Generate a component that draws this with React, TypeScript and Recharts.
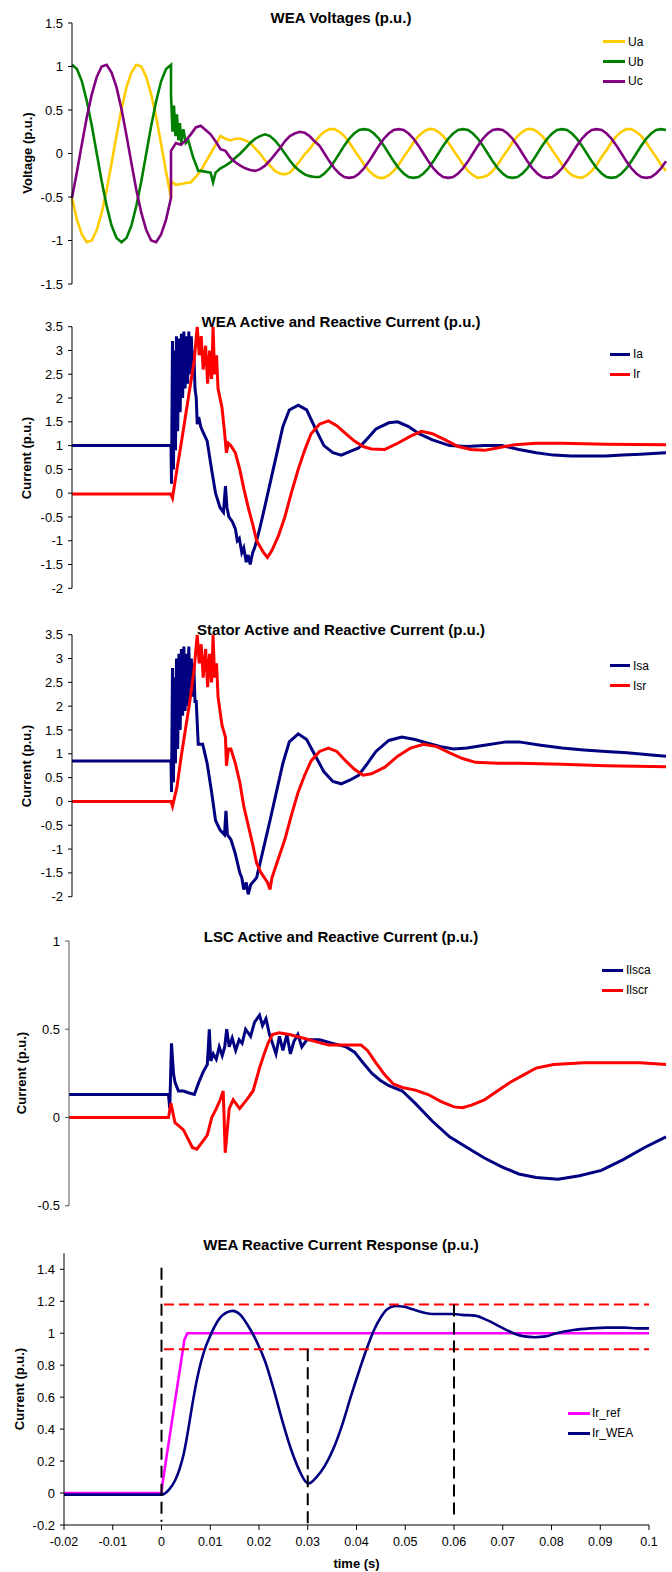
import React from "react";
import { LineChart, Line, XAxis, YAxis } from "recharts";

const FONT = '"Liberation Sans", Arial, Helvetica, sans-serif';

// ---- time grids (ms) ----
const preT = [-20, -19, -18, -17, -16, -15, -14, -13, -12, -11, -10, -9, -8, -7, -6, -5, -4, -3, -2, -1, 0];
const postT = [
  0, 1, 2, 3, 4, 5, 6, 7, 8, 9, 10, 11, 12, 13, 14, 15, 16, 17, 18, 19, 20, 21, 22, 23, 24, 25, 26, 27, 28, 29,
  30, 31, 32, 33, 34, 35, 36, 37, 38, 39, 40, 41, 42, 43, 44, 45, 46, 47, 48, 49, 50, 51, 52, 53, 54, 55, 56, 57, 58, 59,
  60, 61, 62, 63, 64, 65, 66, 67, 68, 69, 70, 71, 72, 73, 74, 75, 76, 77, 78, 79, 80, 81, 82, 83, 84, 85, 86, 87, 88, 89,
  90, 91, 92, 93, 94, 95, 96, 97, 98, 99, 100,
];

// ---- WEA voltages ----
const uaPre = [-0.51, -0.76, -0.93, -1.02, -1.0, -0.88, -0.68, -0.42, -0.11, 0.21, 0.51, 0.76, 0.93, 1.02, 1.0, 0.88, 0.68, 0.42, 0.11, -0.21, -0.51];
const ubPre = [1.02, 0.97, 0.83, 0.6, 0.32, 0, -0.32, -0.6, -0.83, -0.97, -1.02, -0.97, -0.83, -0.6, -0.32, 0, 0.32, 0.6, 0.83, 0.97, 1.02];
const ucPre = [-0.51, -0.21, 0.11, 0.42, 0.68, 0.88, 1.0, 1.02, 0.93, 0.76, 0.51, 0.21, -0.11, -0.42, -0.68, -0.88, -1.0, -1.02, -0.93, -0.76, -0.51];

const uaPost = [
  -0.32, -0.36, -0.35, -0.34, -0.33, -0.27, -0.2, -0.1, 0.0, 0.1,
  0.2, 0.17, 0.15, 0.17, 0.17, 0.15, 0.12, 0.06, 0.0, -0.08,
  -0.14, -0.2, -0.23, -0.24, -0.22, -0.16, -0.09, -0.01, 0.05, 0.13,
  0.2, 0.25, 0.28, 0.28, 0.25, 0.2, 0.13, 0.04, -0.04, -0.13,
  -0.2, -0.25, -0.28, -0.28, -0.25, -0.2, -0.13, -0.04, 0.04, 0.13,
  0.2, 0.25, 0.28, 0.28, 0.25, 0.2, 0.13, 0.04, -0.04, -0.13,
  -0.2, -0.25, -0.28, -0.27, -0.25, -0.2, -0.13, -0.04, 0.04, 0.13,
  0.2, 0.25, 0.28, 0.28, 0.25, 0.2, 0.13, 0.04, -0.04, -0.13,
  -0.2, -0.25, -0.27, -0.28, -0.25, -0.2, -0.13, -0.04, 0.04, 0.13,
  0.2, 0.25, 0.28, 0.28, 0.25, 0.2, 0.13, 0.04, -0.04, -0.13,
  -0.2,
];
const ucPost = [
  0.03, 0.12, 0.1, 0.15, 0.22, 0.3, 0.32, 0.27, 0.22, 0.14,
  0.05, 0.03, -0.05, -0.1, -0.14, -0.17, -0.19, -0.2, -0.18, -0.14,
  -0.08, -0.01, 0.06, 0.14, 0.2, 0.23, 0.25, 0.24, 0.2, 0.14,
  0.09, 0, -0.09, -0.17, -0.23, -0.27, -0.28, -0.27, -0.23, -0.17,
  -0.09, 0, 0.09, 0.17, 0.23, 0.27, 0.28, 0.27, 0.23, 0.17,
  0.09, 0, -0.09, -0.17, -0.23, -0.27, -0.28, -0.27, -0.23, -0.17,
  -0.09, 0, 0.09, 0.17, 0.23, 0.27, 0.28, 0.27, 0.23, 0.17,
  0.09, 0, -0.09, -0.17, -0.23, -0.27, -0.28, -0.27, -0.23, -0.17,
  -0.09, 0, 0.09, 0.17, 0.23, 0.27, 0.28, 0.27, 0.23, 0.17,
  0.09, 0, -0.09, -0.17, -0.23, -0.27, -0.28, -0.27, -0.23, -0.17,
  -0.09,
];
const ubEarlyT = [0, 0.3, 0.6, 0.9, 1.2, 1.5, 1.8, 2.1, 2.5, 3, 3.5, 4, 4.5, 5, 5.5, 6, 7, 8, 8.5, 9, 10, 11, 12, 13, 14, 15, 16, 17, 18, 19, 20, 21, 22, 23, 24, 25, 26, 27, 28, 29];
const ubEarlyV = [0.68, 0.25, 0.55, 0.2, 0.45, 0.15, 0.35, 0.12, 0.28, 0.12, 0.15, 0.05, -0.05, -0.12, -0.2, -0.2, -0.21, -0.22, -0.33, -0.22, -0.17, -0.14, -0.1, -0.05, 0.0, 0.06, 0.12, 0.17, 0.2, 0.22, 0.2, 0.15, 0.08, 0.0, -0.08, -0.15, -0.2, -0.24, -0.26, -0.27];
const ubLateV = [
  -0.27, -0.23, -0.17, -0.09, 0, 0.09, 0.17, 0.23, 0.27, 0.28, 0.27, 0.23, 0.17, 0.09, 0, -0.09, -0.17, -0.23, -0.27, -0.28,
  -0.27, -0.23, -0.17, -0.09, 0, 0.09, 0.17, 0.23, 0.27, 0.28, 0.27, 0.23, 0.17, 0.09, 0, -0.09, -0.17, -0.23, -0.27, -0.28,
  -0.27, -0.23, -0.17, -0.09, 0, 0.09, 0.17, 0.23, 0.27, 0.28, 0.27, 0.23, 0.17, 0.09, 0, -0.09, -0.17, -0.23, -0.27, -0.28,
  -0.27, -0.23, -0.17, -0.09, 0, 0.09, 0.17, 0.23, 0.27, 0.28, 0.27,
];

// ---- WEA active / reactive current ----
const iaT = [-20, 0, 0.1, 0.3, 0.5, 0.7, 0.9, 1.1, 1.35, 1.6, 1.85, 2.1, 2.35, 2.6, 2.85, 3.1, 3.35, 3.6, 3.85, 4.1, 4.35, 4.6, 4.85, 5.1, 5.3, 5.6, 6.0, 6.4, 7.3, 8.2, 9.0, 9.9, 10.6, 11.0, 11.3, 11.7, 12.4, 13.0, 13.4, 13.8, 14.3, 14.7, 15.2, 15.6, 16.0, 16.5, 16.9, 17.8, 18.7, 20.0, 21.3, 22.6, 23.9, 25.7, 27.4, 29.2, 30.9, 32.7, 34.4, 36.2, 37.9, 39.7, 41.4, 44.0, 45.8, 48.0, 50.1, 52.8, 56.3, 59.8, 63.3, 66.8, 70.3, 73.8, 77.3, 80.8, 84.3, 87.8, 91.3, 94.8, 100];
const iaV = [1.0, 1.0, 0.2, 3.2, 0.5, 3.0, 0.9, 3.3, 1.3, 3.25, 1.7, 3.35, 2.0, 3.4, 2.2, 3.3, 2.3, 3.4, 2.5, 3.3, 2.6, 3.0, 2.2, 2.0, 1.45, 1.6, 1.4, 1.3, 1.1, 0.5, 0.0, -0.3, -0.4, 0.15, -0.3, -0.5, -0.6, -0.75, -1.0, -0.95, -1.25, -1.15, -1.45, -1.3, -1.5, -1.25, -1.15, -0.8, -0.4, 0.2, 0.8, 1.4, 1.75, 1.85, 1.75, 1.35, 1.0, 0.85, 0.8, 0.88, 0.95, 1.15, 1.35, 1.48, 1.5, 1.4, 1.25, 1.12, 1.0, 0.98, 1.0, 1.0, 0.92, 0.85, 0.8, 0.78, 0.78, 0.78, 0.8, 0.82, 0.85];
const irT = [-20, 0, 0.3, 1.2, 2.0, 2.9, 3.8, 4.7, 5.3, 5.7, 6.1, 6.5, 7.0, 7.4, 7.8, 8.2, 8.5, 8.8, 9.2, 9.5, 10.3, 10.8, 11.2, 11.6, 12.1, 13.0, 13.9, 14.7, 15.6, 16.5, 17.3, 18.7, 19.5, 20.4, 21.7, 23.0, 24.3, 25.7, 27.0, 28.3, 30.0, 31.8, 33.5, 35.3, 37.0, 38.8, 40.5, 43.2, 45.8, 48.4, 50.6, 52.8, 55.4, 58.0, 60.6, 63.3, 65.9, 69.4, 73.8, 79.0, 87.8, 100];
const irV = [-0.02, -0.02, -0.1, 0.5, 1.0, 1.6, 2.2, 2.8, 3.5, 2.9, 3.3, 2.6, 3.1, 2.3, 3.0, 2.4, 3.5, 2.5, 2.9, 2.2, 1.8, 1.3, 0.85, 1.05, 1.0, 0.85, 0.5, 0.1, -0.3, -0.65, -1.0, -1.25, -1.35, -1.2, -0.9, -0.5, 0.0, 0.5, 0.9, 1.25, 1.45, 1.52, 1.42, 1.25, 1.1, 0.98, 0.93, 0.92, 1.05, 1.2, 1.3, 1.25, 1.12, 0.98, 0.92, 0.9, 0.95, 1.02, 1.05, 1.05, 1.03, 1.02];

// ---- stator active / reactive current ----
const isaT = [-20, 0, 0.1, 0.3, 0.5, 0.7, 0.9, 1.1, 1.35, 1.6, 1.85, 2.1, 2.35, 2.6, 2.85, 3.1, 3.35, 3.6, 3.85, 4.1, 4.35, 4.6, 4.85, 5.1, 5.5, 6.4, 7.3, 8.2, 9.0, 9.9, 10.8, 11.1, 11.4, 12.1, 13.0, 13.9, 14.3, 14.7, 15.2, 15.6, 16.1, 16.5, 17.3, 18.2, 19.1, 20.0, 21.3, 22.6, 23.9, 25.7, 27.4, 29.2, 30.9, 32.7, 34.4, 36.2, 37.9, 39.7, 41.4, 44.0, 46.6, 49.3, 51.9, 54.5, 57.1, 59.8, 63.3, 67.7, 70.3, 74.7, 79.0, 83.4, 87.8, 92.1, 96.5, 100];
const isaV = [0.85, 0.85, 0.2, 2.8, 0.4, 2.6, 0.8, 3.0, 1.1, 3.1, 1.5, 3.2, 1.8, 3.25, 1.9, 3.1, 2.0, 3.25, 2.2, 3.0, 2.2, 2.9, 2.1, 2.1, 1.2, 1.2, 0.8, 0.2, -0.4, -0.6, -0.7, -0.2, -0.7, -0.8, -1.1, -1.5, -1.6, -1.85, -1.7, -1.95, -1.75, -1.7, -1.6, -1.2, -0.8, -0.4, 0.2, 0.8, 1.25, 1.42, 1.3, 0.95, 0.62, 0.42, 0.37, 0.45, 0.55, 0.8, 1.05, 1.28, 1.35, 1.3, 1.22, 1.15, 1.1, 1.12, 1.18, 1.25, 1.25, 1.18, 1.12, 1.08, 1.05, 1.02, 0.98, 0.95];
const isrT = [-20, 0, 0.3, 1.2, 2.0, 2.9, 3.8, 4.7, 5.3, 5.7, 6.1, 6.5, 7.0, 7.4, 7.8, 8.2, 8.5, 8.8, 9.2, 9.5, 10.3, 11.0, 11.2, 11.6, 12.1, 13.0, 13.9, 14.7, 15.6, 16.5, 17.3, 18.2, 19.5, 20.0, 20.4, 21.7, 23.0, 24.3, 25.7, 27.0, 28.3, 30.0, 31.8, 33.5, 35.3, 37.0, 38.8, 40.5, 43.2, 45.8, 48.4, 51.0, 53.7, 56.3, 58.9, 61.5, 65.9, 70.3, 79.0, 87.8, 100];
const isrV = [0, 0, -0.1, 0.3, 0.9, 1.5, 2.1, 2.8, 3.5, 2.9, 3.3, 2.6, 3.2, 2.4, 3.1, 2.5, 3.5, 2.6, 2.9, 2.2, 1.6, 1.35, 0.75, 1.1, 1.1, 0.8, 0.4, -0.1, -0.5, -0.9, -1.3, -1.5, -1.7, -1.85, -1.6, -1.2, -0.8, -0.3, 0.2, 0.55, 0.85, 1.05, 1.12, 1.05, 0.85, 0.68, 0.55, 0.58, 0.72, 0.95, 1.12, 1.2, 1.15, 1.02, 0.9, 0.82, 0.8, 0.8, 0.78, 0.75, 0.73];

// ---- LSC active / reactive current ----
const lscaT = [-20, 0, 0.25, 0.6, 1.0, 1.3, 2.0, 3.0, 4.0, 5.2, 6.1, 7.0, 7.8, 8.2, 8.5, 9.0, 9.6, 10.2, 10.8, 11.3, 11.7, 12.2, 12.8, 13.5, 14.2, 14.8, 15.5, 16.5, 17.3, 18.3, 18.9, 19.6, 20.3, 20.9, 21.6, 22.3, 23.0, 23.8, 24.5, 25.2, 26.0, 26.8, 27.8, 30.4, 33.0, 35.7, 37.4, 39.1, 40.9, 42.6, 44.3, 47.0, 49.6, 53.0, 56.5, 60.0, 63.5, 67.0, 70.4, 73.9, 78.3, 82.6, 87.0, 91.3, 95.7, 100];
const lscaV = [0.13, 0.13, 0.05, 0.42, 0.25, 0.2, 0.15, 0.15, 0.14, 0.13, 0.2, 0.26, 0.3, 0.5, 0.32, 0.36, 0.33, 0.4, 0.35, 0.4, 0.5, 0.4, 0.45, 0.38, 0.44, 0.42, 0.5, 0.46, 0.54, 0.58, 0.52, 0.56, 0.47, 0.42, 0.36, 0.46, 0.38, 0.47, 0.36, 0.43, 0.47, 0.4, 0.44, 0.44, 0.42, 0.4, 0.37, 0.31, 0.25, 0.21, 0.18, 0.15, 0.08, -0.02, -0.11, -0.17, -0.23, -0.28, -0.32, -0.34, -0.35, -0.33, -0.3, -0.24, -0.17, -0.11];
const lscrT = [-20, 0, 0.5, 1.3, 2.2, 3.0, 3.9, 4.8, 5.7, 6.5, 7.8, 8.7, 9.6, 10.4, 11.0, 11.4, 12.2, 13.0, 14.3, 15.7, 17.0, 18.3, 19.1, 20.0, 20.9, 22.2, 24.3, 27.0, 29.6, 32.2, 35.7, 38.7, 40.0, 41.7, 43.5, 45.2, 47.0, 49.6, 52.2, 54.8, 57.4, 59.1, 60.9, 63.5, 66.1, 68.7, 71.3, 73.9, 77.4, 83.5, 89.6, 94.8, 100];
const lscrV = [0, 0, 0.08, -0.03, -0.05, -0.07, -0.12, -0.17, -0.18, -0.15, -0.1, 0.0, 0.05, 0.1, 0.15, -0.2, 0.05, 0.1, 0.05, 0.1, 0.15, 0.28, 0.35, 0.42, 0.47, 0.48, 0.47, 0.45, 0.43, 0.41, 0.41, 0.41, 0.38, 0.31, 0.24, 0.19, 0.17, 0.155, 0.13, 0.09, 0.06, 0.055, 0.07, 0.1, 0.15, 0.2, 0.24, 0.28, 0.3, 0.31, 0.31, 0.31, 0.3];

// ---- reactive current response ----
const refT = [-20, 0, 0.2, 4.7, 5.3, 100];
const refV = [0, 0, 0.06, 0.96, 1.0, 1.0];
const weaT = [-20, 0, 1.5, 2.8, 3.7, 4.6, 5.5, 6.3, 7.2, 8.1, 9.0, 9.8, 10.7, 11.6, 13.4, 14.7, 16.0, 17.7, 19.5, 21.3, 23.0, 24.8, 26.5, 28.3, 29.6, 30.2, 31.8, 33.5, 35.3, 37.1, 38.8, 40.6, 42.3, 43.6, 45.0, 46.3, 48.0, 49.8, 51.5, 53.7, 55.9, 58.1, 59.9, 61.6, 64.3, 66.9, 69.5, 72.2, 74.4, 76.6, 78.8, 81.0, 84.5, 88.0, 91.5, 95.0, 97.6, 100];
const weaV = [-0.01, -0.01, 0.02, 0.08, 0.15, 0.25, 0.4, 0.55, 0.7, 0.82, 0.91, 0.97, 1.03, 1.08, 1.13, 1.14, 1.12, 1.05, 0.95, 0.82, 0.65, 0.45, 0.28, 0.14, 0.07, 0.06, 0.1, 0.17, 0.28, 0.43, 0.6, 0.77, 0.92, 1.02, 1.1, 1.15, 1.17, 1.165, 1.15, 1.13, 1.12, 1.12, 1.12, 1.115, 1.11, 1.08, 1.04, 1.0, 0.98, 0.975, 0.98, 1.0, 1.02, 1.03, 1.035, 1.035, 1.03, 1.03];
const bandT = [0.5, 100];
const upperV = [1.18, 1.18];
const lowerV = [0.9, 0.9];
const mark0T = [0, 0];
const mark0V = [1.41, -0.18];
const mark30T = [30, 30];
const mark30V = [0.9, -0.2];
const mark60T = [60, 60];
const mark60V = [1.18, -0.14];

// ---- axes ----
const xTicks = [-20, -10, 0, 10, 20, 30, 40, 50, 60, 70, 80, 90, 100];
const xTickLabels = ["-0.02", "-0.01", "0", "0.01", "0.02", "0.03", "0.04", "0.05", "0.06", "0.07", "0.08", "0.09", "0.1"];
const voltTicks = [-1.5, -1, -0.5, 0, 0.5, 1, 1.5];
const curTicks = [-2, -1.5, -1, -0.5, 0, 0.5, 1, 1.5, 2, 2.5, 3, 3.5];
const lscTicks = [-0.5, 0, 0.5, 1];
const respTicks = [-0.2, 0, 0.2, 0.4, 0.6, 0.8, 1, 1.2, 1.4];

type Pt = { t: number; v: number };
const pts = (t: number[], v: number[]): Pt[] => t.map((x, i) => ({ t: x, v: v[i] }));

type Series = { key: string; color: string; data: Pt[]; width?: number; dash?: string; curve?: "linear" | "monotone" };
type LegendItem = { name: string; color: string };
type PanelDef = {
  top: number;
  height: number;
  margin: { top: number; right: number; bottom: number; left: number };
  yWidth: number;
  domain: [number, number];
  ticks: number[];
  title: string;
  titleY: number;
  yLabel: string;
  yLabelX: number;
  yLabelY: number;
  series: Series[];
  legend: LegendItem[];
  legendX: [number, number, number];
  legendY: number[];
  showX?: boolean;
  axisColor?: string;
};

const NAVY = "#000080";
const RED = "#FF0000";

const panels: PanelDef[] = [
  {
    top: 0, height: 300, margin: { top: 23, right: 6, bottom: 16, left: 0 }, yWidth: 72,
    domain: [-1.5, 1.5], ticks: voltTicks,
    title: "WEA Voltages (p.u.)", titleY: 17, yLabel: "Voltage (p.u.)", yLabelX: 27, yLabelY: 153,
    series: [
      { key: "ua", color: "#FFCC00", data: pts([...preT, ...postT], [...uaPre, ...uaPost]), width: 2.6 },
      { key: "ub", color: "#008000", data: pts([...preT, ...ubEarlyT, ...postT.slice(30)], [...ubPre, ...ubEarlyV, ...ubLateV]), width: 2.6 },
      { key: "uc", color: "#800080", data: pts([...preT, ...postT], [...ucPre, ...ucPost]), width: 2.6 },
    ],
    legend: [{ name: "Ua", color: "#FFCC00" }, { name: "Ub", color: "#008000" }, { name: "Uc", color: "#800080" }],
    legendX: [603, 625, 628], legendY: [41.7, 61.7, 81.3],
  },
  {
    top: 300, height: 310, margin: { top: 26.7, right: 6, bottom: 21.7, left: 0 }, yWidth: 72,
    domain: [-2, 3.5], ticks: curTicks,
    title: "WEA Active and Reactive Current (p.u.)", titleY: 321, yLabel: "Current (p.u.)", yLabelX: 25.5, yLabelY: 457.5,
    series: [
      { key: "ia", color: NAVY, data: pts(iaT, iaV), width: 3 },
      { key: "ir", color: RED, data: pts(irT, irV), width: 3 },
    ],
    legend: [{ name: "Ia", color: NAVY }, { name: "Ir", color: RED }],
    legendX: [610, 630, 633], legendY: [354, 374],
  },
  {
    top: 610, height: 310, margin: { top: 24.7, right: 6, bottom: 23.3, left: 0 }, yWidth: 72,
    domain: [-2, 3.5], ticks: curTicks,
    title: "Stator Active and Reactive Current (p.u.)", titleY: 629, yLabel: "Current (p.u.)", yLabelX: 25.5, yLabelY: 765.7,
    series: [
      { key: "isa", color: NAVY, data: pts(isaT, isaV), width: 3 },
      { key: "isr", color: RED, data: pts(isrT, isrV), width: 3 },
    ],
    legend: [{ name: "Isa", color: NAVY }, { name: "Isr", color: RED }],
    legendX: [610, 630, 633], legendY: [665.7, 685.7],
  },
  {
    top: 920, height: 300, margin: { top: 21, right: 6, bottom: 14.3, left: 0 }, yWidth: 69,
    domain: [-0.5, 1], ticks: lscTicks,
    title: "LSC Active and Reactive Current (p.u.)", titleY: 936, yLabel: "Current (p.u.)", yLabelX: 21, yLabelY: 1073.3,
    series: [
      { key: "lsca", color: NAVY, data: pts(lscaT, lscaV), width: 3 },
      { key: "lscr", color: RED, data: pts(lscrT, lscrV), width: 3 },
    ],
    legend: [{ name: "Ilsca", color: NAVY }, { name: "Ilscr", color: RED }],
    legendX: [602, 623, 626], legendY: [970, 990],
    axisColor: "#555",
  },
  {
    top: 1220, height: 352, margin: { top: 33.3, right: 23, bottom: 0, left: 0 }, yWidth: 64,
    domain: [-0.2, 1.5], ticks: respTicks,
    title: "WEA Reactive Current Response (p.u.)", titleY: 1244, yLabel: "Current (p.u.)", yLabelX: 18.7, yLabelY: 1389,
    series: [
      { key: "ref", color: "#FF00FF", data: pts(refT, refV), width: 2.6 },
      { key: "wea", color: NAVY, data: pts(weaT, weaV), curve: "monotone", width: 2.6 },
      { key: "up", color: RED, data: pts(bandT, upperV), width: 2, dash: "10 5" },
      { key: "lo", color: RED, data: pts(bandT, lowerV), width: 2, dash: "10 5" },
      { key: "m0", color: "#000", data: pts(mark0T, mark0V), width: 2, dash: "12 6" },
      { key: "m30", color: "#000", data: pts(mark30T, mark30V), width: 2, dash: "12 6" },
      { key: "m60", color: "#000", data: pts(mark60T, mark60V), width: 2, dash: "12 6" },
    ],
    legend: [{ name: "Ir_ref", color: "#FF00FF" }, { name: "Ir_WEA", color: NAVY }],
    legendX: [568, 590, 592], legendY: [1413, 1433],
    showX: true,
  },
];

function Panel({ p }: { p: PanelDef }) {
  const axisColor = p.axisColor ?? "#000";
  const tickStyle = { fill: "#000", fontSize: 13, fontFamily: FONT };
  return (
    <>
      <div style={{ position: "absolute", left: 0, top: p.top }}>
        <LineChart width={672} height={p.height} margin={p.margin}>
          {p.showX ? (
            <XAxis
              type="number"
              dataKey="t"
              domain={[-20, 100]}
              ticks={xTicks}
              interval={0}
              tickFormatter={(v: number) => xTickLabels[xTicks.indexOf(v)] ?? String(v)}
              height={47}
              tickSize={5}
              tickMargin={7}
              axisLine={{ stroke: "#000" }}
              tickLine={{ stroke: "#000" }}
              tick={{ fill: "#000", fontSize: 12.5, fontFamily: FONT }}
            />
          ) : (
            <XAxis type="number" dataKey="t" domain={[-20, 100]} hide />
          )}
          <YAxis
            type="number"
            domain={p.domain}
            ticks={p.ticks}
            interval={0}
            width={p.yWidth}
            tickSize={4}
            tickMargin={5}
            allowDataOverflow
            axisLine={{ stroke: axisColor }}
            tickLine={{ stroke: axisColor }}
            tick={tickStyle}
          />
          {p.series.map((s) => (
            <Line
              key={s.key}
              data={s.data}
              dataKey="v"
              type={s.curve ?? "linear"}
              stroke={s.color}
              strokeWidth={s.width ?? 2.5}
              strokeDasharray={s.dash}
              dot={false}
              activeDot={false}
              isAnimationActive={false}
            />
          ))}
        </LineChart>
      </div>
      <div
        style={{
          position: "absolute", left: 341, top: p.titleY, transform: "translate(-50%, -50%)",
          fontFamily: FONT, fontWeight: "bold", fontSize: 15, whiteSpace: "nowrap", lineHeight: 1,
        }}
      >
        {p.title}
      </div>
      <div
        style={{
          position: "absolute", left: p.yLabelX, top: p.yLabelY, transform: "translate(-50%, -50%) rotate(-90deg)",
          fontFamily: FONT, fontWeight: "bold", fontSize: 13, whiteSpace: "nowrap", lineHeight: 1,
        }}
      >
        {p.yLabel}
      </div>
      {p.legend.map((item, i) => (
        <React.Fragment key={item.name}>
          <div
            style={{
              position: "absolute", left: p.legendX[0], top: p.legendY[i] - 1.5,
              width: p.legendX[1] - p.legendX[0], height: 3, background: item.color,
            }}
          />
          <div
            style={{
              position: "absolute", left: p.legendX[2], top: p.legendY[i], transform: "translateY(-50%)",
              fontFamily: FONT, fontSize: 12, lineHeight: 1, whiteSpace: "nowrap",
            }}
          >
            {item.name}
          </div>
        </React.Fragment>
      ))}
    </>
  );
}

export default function App() {
  return (
    <div style={{ position: "absolute", left: 0, top: 0, width: 672, height: 1572, background: "#fff" }}>
      {panels.map((p) => (
        <Panel key={p.title} p={p} />
      ))}
      <div
        style={{
          position: "absolute", left: 356.5, top: 1563, transform: "translate(-50%, -50%)",
          fontFamily: FONT, fontWeight: "bold", fontSize: 13, whiteSpace: "nowrap", lineHeight: 1,
        }}
      >
        time (s)
      </div>
    </div>
  );
}
